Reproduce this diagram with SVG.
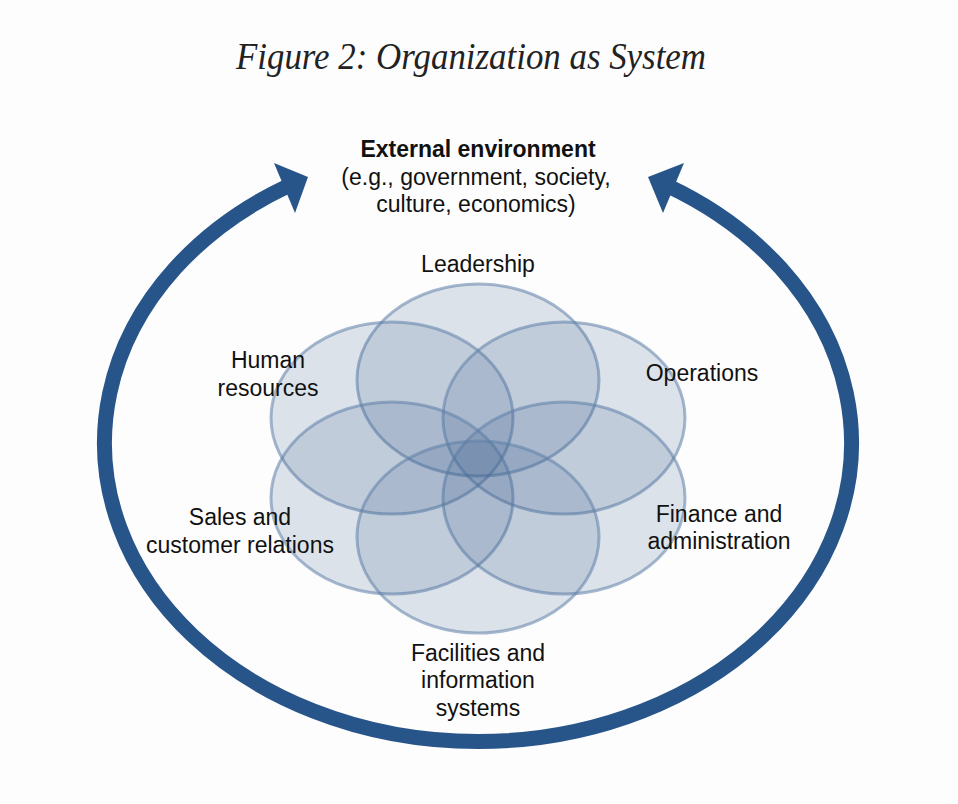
<svg xmlns="http://www.w3.org/2000/svg" width="958" height="804" viewBox="0 0 958 804">
  <style>
    .title { font-family: "Liberation Serif", "DejaVu Serif", serif; font-style: italic; font-size: 38px; fill: #222222; }
    .lbl { font-family: "Liberation Sans", Arial, sans-serif; font-size: 23px; fill: #111111; text-anchor: middle; }
    .bold { font-weight: bold; }
    .petal { fill: #3d5f8c; fill-opacity: 0.17; stroke: #5f7fa8; stroke-opacity: 0.55; stroke-width: 3; }
    .ring { fill: none; stroke: #27558a; stroke-width: 15; }
    .head { fill: #27558a; }
  </style>
  <rect x="0" y="0" width="958" height="804" fill="#fdfdfd"/>
  <text class="title" x="471" y="69" text-anchor="middle" textLength="470" lengthAdjust="spacingAndGlyphs">Figure 2: Organization as System</text>

  <g id="connectors">
    <path class="ring" d="M 668 186 A 373.5 298.5 0 1 1 288 186"/>
    <polygon class="head" points="274,163 295,213 308,177"/>
    <polygon class="head" points="684,163 663,213 648,177"/>
  </g>

  <g id="external-environment">
    <text class="lbl bold" x="478" y="157">External environment</text>
    <text class="lbl" x="476" y="185">(e.g., government, society,</text>
    <text class="lbl" x="476" y="212">culture, economics)</text>
  </g>

  <g id="leadership">
    <ellipse class="petal" cx="478" cy="380" rx="121" ry="96"/>
    <text class="lbl" x="478" y="272">Leadership</text>
  </g>
  <g id="human-resources">
    <ellipse class="petal" cx="392" cy="418" rx="121" ry="96"/>
    <text class="lbl" x="268" y="368">Human</text>
    <text class="lbl" x="268" y="396">resources</text>
  </g>
  <g id="operations">
    <ellipse class="petal" cx="564" cy="418" rx="121" ry="96"/>
    <text class="lbl" x="702" y="381">Operations</text>
  </g>
  <g id="sales">
    <ellipse class="petal" cx="392" cy="498" rx="121" ry="96"/>
    <text class="lbl" x="240" y="525">Sales and</text>
    <text class="lbl" x="240" y="553">customer relations</text>
  </g>
  <g id="finance">
    <ellipse class="petal" cx="564" cy="498" rx="121" ry="96"/>
    <text class="lbl" x="719" y="522">Finance and</text>
    <text class="lbl" x="719" y="549">administration</text>
  </g>
  <g id="facilities">
    <ellipse class="petal" cx="478" cy="537" rx="121" ry="96"/>
    <text class="lbl" x="478" y="661">Facilities and</text>
    <text class="lbl" x="478" y="688">information</text>
    <text class="lbl" x="478" y="716">systems</text>
  </g>
</svg>
